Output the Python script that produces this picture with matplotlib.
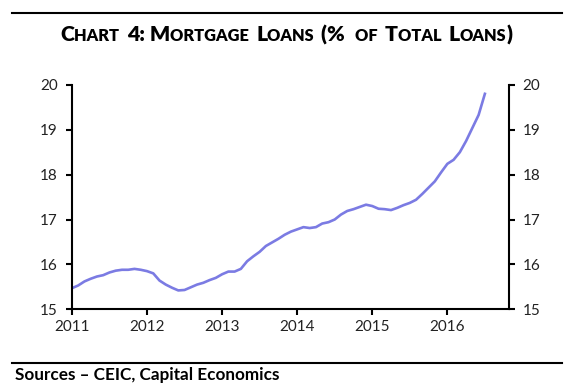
import numpy as np
import matplotlib.pyplot as plt

# monthly share of mortgage loans, Jan 2011 - Jul 2016
mortgage_share = [
    15.47, 15.53, 15.62, 15.68, 15.73, 15.76, 15.82, 15.86, 15.88, 15.88, 15.90, 15.88,
    15.85, 15.80, 15.64, 15.55, 15.48, 15.42, 15.43, 15.49, 15.55, 15.59, 15.65, 15.70,
    15.78, 15.84, 15.84, 15.90, 16.07, 16.18, 16.28, 16.41, 16.49, 16.57, 16.66, 16.73,
    16.78, 16.83, 16.81, 16.83, 16.91, 16.94, 17.00, 17.11, 17.19, 17.23, 17.28, 17.33,
    17.30, 17.24, 17.23, 17.21, 17.26, 17.32, 17.37, 17.44, 17.57, 17.71, 17.85, 18.05,
    18.24, 18.33, 18.50, 18.75, 19.04, 19.33, 19.80,
]
year_labels = ['2011', '2012', '2013', '2014', '2015', '2016']
y_ticks = [15, 16, 17, 18, 19, 20]

font = 'Lato'
line_color = '#7b7be3'

fig = plt.figure(figsize=(5.8, 3.91), dpi=100)
ax = fig.add_axes([0.124, 0.209, 0.753, 0.574])

months = np.arange(len(mortgage_share))
ax.plot(months, mortgage_share, color=line_color, lw=1.9)

ax.set_xlim(0, 69.8)
ax.set_ylim(15, 20)
ax.set_xticks(np.arange(len(year_labels)) * 12)
ax.set_xticklabels(year_labels)
ax.set_yticks(y_ticks)

for s in ['left', 'right', 'bottom']:
    ax.spines[s].set_linewidth(1.5)
ax.spines['top'].set_visible(False)
ax.tick_params(axis='both', direction='out', length=4, width=1.5, labelsize=11,
               labelcolor='#222222')
ax.tick_params(axis='y', right=True, labelright=True, pad=6)
ax.tick_params(axis='x', pad=4)
for lab in ax.get_xticklabels() + ax.get_yticklabels():
    lab.set_fontfamily(font)

# horizontal rules
fig.add_artist(plt.Line2D([0.02, 0.969], [0.967, 0.967], color='black', lw=1.5))
fig.add_artist(plt.Line2D([0.02, 0.969], [0.072, 0.072], color='black', lw=1.5))

# small-caps title built from pieces
pieces = [('C', 1), ('HART ', 0), ('4: M', 1), ('ORTGAGE ', 0), ('L', 1), ('OANS ', 0),
          ('(% ', 1), ('OF ', 0), ('T', 1), ('OTAL ', 0), ('L', 1), ('OANS', 0), (')', 1)]
big, small = 15.3, 11.8
fig.canvas.draw()
renderer = fig.canvas.get_renderer()
texts = []
for txt, is_big in pieces:
    t = fig.text(0, 0.895, txt, fontsize=big if is_big else small, fontweight='heavy',
                 fontfamily=font, ha='left', va='baseline')
    texts.append(t)
widths = []
for t in texts:
    w = t.get_window_extent(renderer=renderer).width
    if t.get_text().endswith(' '):
        w += t.get_fontsize() * 100 / 72 * 0.22
    widths.append(w / fig.bbox.width)
total = sum(widths)
x = 0.494 - total / 2
for t, w in zip(texts, widths):
    t.set_x(x)
    x += w

fig.text(0.026, 0.028, 'Sources \u2013 CEIC, Capital Economics', fontsize=12.3,
         fontweight='bold', fontfamily=font, ha='left', va='baseline')

fig.savefig('out.png', dpi=100)
